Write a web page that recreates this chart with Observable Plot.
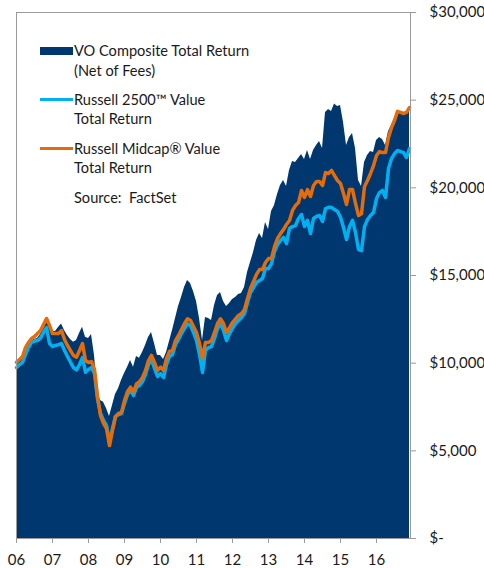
<!DOCTYPE html>
<html>
<head>
<meta charset="utf-8">
<script src="https://cdn.jsdelivr.net/npm/d3@7"></script>
<script src="https://cdn.jsdelivr.net/npm/@observablehq/plot@0.6"></script>
<style>
  html, body { margin: 0; padding: 0; background: #fff; }
  #wrap { position: relative; width: 484px; height: 568px; font-family: Lato, "Open Sans", sans-serif; color: #1a1a1a; }
  .lg { position: absolute; font-size: 14.6px; line-height: 16px; white-space: pre; }
  .sw { position: absolute; }
</style>
</head>
<body>
<div id="wrap"></div>
<script>
// Monthly values, Jan 2006 – Dec 2016 (index 0..131)
const vo = [
  9900,10090,10340,10720,11060,11260,11350,11410,11630,12030,12530,12090,
  11800,11800,12030,12240,11860,11580,11350,11200,11290,11690,12050,11480,
  11410,11630,10440,8380,7870,7770,7410,6960,7590,8210,8540,9010,
  9410,9750,10150,9770,10380,10280,10610,11010,11460,11750,11120,10440,
  10440,10210,10610,11240,11860,12550,13230,13740,14310,14710,14540,14090,
  13520,12550,11290,12600,12550,12430,13290,13860,14030,13520,13230,13400,
  13630,13740,13920,13970,14310,15170,15740,16310,17000,17390,17110,18020,
  17620,18650,18990,19620,20130,20420,20080,20990,21500,21440,21670,21900,
  21610,22130,21610,22130,22410,22640,22240,24300,24470,24360,24780,24640,
  24700,23720,22410,22870,23100,22240,20420,20080,21440,21840,22070,22010,
  22700,22870,22750,22410,23210,23550,23950,24240,24240,24300,24300,24410
];
const r2500v = [
  9750,9920,10050,10490,10890,11180,11260,11290,11430,11750,12030,11120,
  10950,11010,11060,11120,10720,10380,10050,9750,9610,9920,10320,9480,
  9640,9750,9410,7980,7130,6730,6440,5530,6270,6960,7070,7130,
  7700,8210,8440,8160,8610,8730,8950,9350,9920,10210,9700,9240,
  9410,9180,9920,10380,10490,11060,11350,11690,11980,12240,12150,11750,
  11290,10490,9470,10720,10890,10950,11410,11980,12240,11860,11290,11690,
  11980,12260,12430,12600,12830,13460,14030,14310,14600,14710,14830,15400,
  15400,15680,16370,16770,16990,17170,16820,17680,17790,17850,18250,18480,
  17790,18140,17390,18250,18370,18420,18080,18820,18890,18880,18760,18650,
  18320,17740,17050,17790,18140,17450,16480,16420,17790,18190,18420,18590,
  19390,19730,19850,19450,21100,21670,21950,22130,22070,22010,21730,22240
];
const rmcv = [
  10050,10210,10380,10890,11180,11410,11520,11690,11860,12200,12550,12150,
  11690,11690,11690,11860,11350,11010,10720,10440,10340,10720,11120,10150,
  10040,10090,9640,8100,7010,6560,6270,5300,6160,6960,7130,7190,
  7870,8380,8630,8340,8820,8950,9180,9580,10150,10440,10040,9580,
  9770,9580,10270,10670,10720,11290,11580,11920,12260,12530,12430,12090,
  11750,11120,10270,11180,11180,11290,11750,12260,12530,12260,11750,12030,
  12320,12530,12720,12830,13060,13690,14260,14660,15060,15340,15340,15740,
  15970,15970,16650,17110,17390,17620,17910,18140,18710,18990,19160,19850,
  19450,19900,19510,20130,20360,20360,20130,20870,20820,20990,20700,20420,
  20250,19680,19050,19900,19900,19110,18420,18520,20080,20420,20820,21270,
  21840,22070,22010,22010,22870,23440,23840,24360,24300,24240,24300,24580
];
const yearLabels = ["06","07","08","09","10","11","12","13","14","15","16"];
const yearTicks = [0,12,24,36,48,60,72,84,96,108,120];
const yTicks = [0,5000,10000,15000,20000,25000,30000];

const data = vo.map((v, i) => ({m: i, vo: v, r2500v: r2500v[i], rmcv: rmcv[i]}));

const NAVY = "#00376F", BLUE = "#00B0F0", ORANGE = "#E46C0A", GRID = "#9a9a9a";

const chart = Plot.plot({
  width: 484, height: 568,
  marginLeft: 16, marginRight: 74, marginTop: 12, marginBottom: 30,
  x: {domain: [0, 131.33], label: null},
  y: {domain: [0, 30000], label: null},
  style: {fontFamily: "Lato, 'Open Sans', sans-serif", fontSize: "15px", color: "#1a1a1a", background: "#fff"},
  marks: [
    Plot.areaY(data, {x: "m", y: "vo", fill: NAVY}),
    Plot.lineY(data, {x: "m", y: "r2500v", stroke: BLUE, strokeWidth: 3.5}),
    Plot.lineY(data, {x: "m", y: "rmcv", stroke: ORANGE, strokeWidth: 3.5}),
    Plot.frame({stroke: GRID}),
    Plot.axisY({anchor: "right", ticks: yTicks, tickSize: 5, tickPadding: 14, textAnchor: "start",
      stroke: GRID, fill: "#1a1a1a", label: null,
      tickFormat: d => d === 0 ? "$-" : "$" + d3.format(",")(d)}),
    Plot.axisX({anchor: "bottom", ticks: yearTicks, tickSize: 5, tickPadding: 11,
      stroke: GRID, fill: "#1a1a1a", label: null,
      tickFormat: d => yearLabels[yearTicks.indexOf(d)]})
  ]
});

const wrap = document.getElementById("wrap");
wrap.appendChild(chart);

const legend = [
  {type: "rect", color: NAVY, y: 51, lines: ["VO Composite Total Return", "(Net of Fees)"]},
  {type: "line", color: BLUE, y: 99.5, lines: ["Russell 2500™ Value", "Total Return"]},
  {type: "line", color: ORANGE, y: 148.5, lines: ["Russell Midcap® Value", "Total Return"]},
  {type: "none", y: 198, lines: ["Source:  FactSet"]}
];
for (const item of legend) {
  if (item.type !== "none") {
    const sw = document.createElement("div");
    sw.className = "sw";
    const h = item.type === "rect" ? 8 : 3.5;
    sw.style.left = "40px"; sw.style.width = "33px";
    sw.style.top = (item.y - h / 2) + "px"; sw.style.height = h + "px";
    sw.style.background = item.color;
    wrap.appendChild(sw);
  }
  item.lines.forEach((t, i) => {
    const d = document.createElement("div");
    d.className = "lg";
    d.textContent = t;
    d.style.left = "74px";
    d.style.top = (item.y - 8 + i * 19.5) + "px";
    wrap.appendChild(d);
  });
}
</script>
</body>
</html>
